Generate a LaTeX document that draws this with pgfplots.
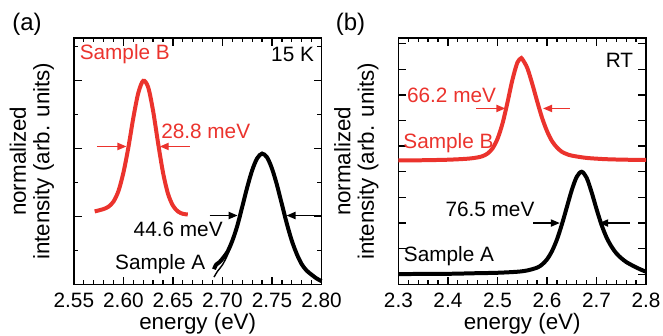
\documentclass[border=0pt]{standalone}
\usepackage{fontspec}
\setmainfont{Liberation Sans}
\usepackage{pgfplots}
\pgfplotsset{compat=1.18}
\usetikzlibrary{arrows.meta}
\definecolor{myred}{RGB}{235,51,45}
\newcommand\tf{\fontsize{10.4}{12}\selectfont}
\newcommand\lf{\fontsize{11.2}{11.75}\selectfont}
\tikzset{arr/.style={line width=0.75pt, -{Triangle[length=4.5pt,width=3.6pt]}}}
\begin{document}
\begin{tikzpicture}
\useasboundingbox (-37pt,-25.5pt) rectangle (295pt,142.5pt);
\pgfplotsset{
 panel/.style={
  scale only axis, width=124pt, height=123.5pt,
  axis line style={line width=0.85pt},
  tick style={black, line width=0.65pt},
  tick align=inside,
  major tick length=4pt, minor tick length=2.2pt,
  /pgf/number format/assume math mode=true,
  ticklabel style={font=\tf},
  xticklabel style={anchor=base, yshift=-11.5pt},
  yticklabels={},
  label style={font=\lf},
  xlabel={energy (eV)},
  xlabel style={at={(axis description cs:0.5,0)}, anchor=base, yshift=-22.5pt},
  ylabel={normalized\\intensity (arb. units)},
  ylabel style={at={(axis description cs:-0.052,0.5)}, anchor=south, align=center},
  clip=false,
 },
}
\node[font=\fontsize{12}{13}\selectfont] at (-23.5pt,130.5pt) {(a)};
\node[font=\fontsize{12}{13}\selectfont] at (138.5pt,130.5pt) {(b)};

% ---------- panel (a) ----------
\begin{axis}[panel, at={(0pt,0pt)}, anchor=south west,
 xmin=2.55, xmax=2.80, ymin=0, ymax=7.25,
 xtick={2.55,2.60,2.65,2.70,2.75,2.80},
 xticklabels={2.55,2.60,2.65,2.70,2.75,2.80},
 minor x tick num=4,
 ytick={2,4,6}, minor ytick={1,3,5,7},
]
\addplot[myred, line width=2pt, smooth] coordinates {
(2.571,2.15) (2.575,2.18) (2.580,2.22) (2.585,2.29) (2.590,2.44) (2.595,2.75)
(2.600,3.29) (2.605,4.03) (2.610,4.90) (2.615,5.63) (2.620,5.99) (2.625,5.80)
(2.630,5.10) (2.635,4.16) (2.640,3.29) (2.645,2.67) (2.650,2.32) (2.655,2.15)
(2.660,2.08) (2.665,2.06)};
\addplot[black, line width=0.7pt, smooth] coordinates {
(2.6915,0.22) (2.695,0.39) (2.700,0.58) (2.705,0.86) (2.710,1.24) (2.715,1.73)};
\addplot[black, line width=2pt, smooth] coordinates {
(2.6915,0.45) (2.6935,0.58) (2.697,0.66) (2.700,0.76) (2.705,0.96) (2.710,1.29)
(2.715,1.73) (2.720,2.29) (2.725,2.86) (2.730,3.36) (2.735,3.71) (2.740,3.85)
(2.745,3.74) (2.750,3.41) (2.755,2.93) (2.760,2.36) (2.765,1.79) (2.770,1.29)
(2.775,0.90) (2.780,0.60) (2.785,0.41) (2.790,0.29) (2.795,0.18) (2.800,0.10)};
\node[myred, font=\tf] at (axis cs:2.6014,6.76) {Sample B};
\node[font=\tf] at (axis cs:2.7708,6.76) {15 K};
\node[myred, font=\tf] at (axis cs:2.6831,4.5) {28.8 meV};
\draw[arr, myred] (axis cs:2.5732,4.06) -- (axis cs:2.6031,4.06);
\draw[arr, myred] (axis cs:2.6669,4.06) -- (axis cs:2.6367,4.06);
\node[font=\tf] at (axis cs:2.6553,1.62) {44.6 meV};
\draw[arr] (axis cs:2.6871,2.03) -- (axis cs:2.7153,2.03);
\draw[arr] (axis cs:2.800,2.03) -- (axis cs:2.7647,2.03);
\node[font=\tf] at (axis cs:2.6372,0.59) {Sample A};
\end{axis}

% ---------- panel (b) ----------
\begin{axis}[panel, at={(162.5pt,0pt)}, anchor=south west,
 xmin=2.3, xmax=2.8, ymin=-1.4, ymax=8.22,
 xtick={2.3,2.4,2.5,2.6,2.7,2.8},
 xticklabels={2.3,2.4,2.5,2.6,2.7,2.8},
 minor x tick num=4,
 ytick={-1,0,1,2,3,4,5,6,7,8},
]
\addplot[myred, line width=2pt, smooth] coordinates {
(2.30,3.44) (2.35,3.45) (2.40,3.47) (2.44,3.51) (2.46,3.56) (2.47,3.61)
(2.48,3.71) (2.49,3.91) (2.50,4.28) (2.51,4.87) (2.52,5.68) (2.53,6.57)
(2.54,7.25) (2.547,7.42) (2.55,7.40) (2.56,7.06) (2.57,6.45) (2.58,5.76)
(2.59,5.11) (2.60,4.59) (2.61,4.20) (2.62,3.95) (2.63,3.78) (2.64,3.69)
(2.65,3.63) (2.68,3.54) (2.72,3.49) (2.76,3.47) (2.80,3.46)};
\addplot[black, line width=2pt, smooth] coordinates {
(2.30,-0.99) (2.40,-0.98) (2.45,-0.96) (2.50,-0.94) (2.54,-0.90) (2.56,-0.85)
(2.58,-0.74) (2.59,-0.62) (2.60,-0.42) (2.61,-0.10) (2.62,0.35) (2.63,0.94)
(2.64,1.61) (2.65,2.28) (2.66,2.80) (2.67,3.00) (2.68,2.77) (2.69,2.21)
(2.70,1.55) (2.71,0.94) (2.72,0.45) (2.73,0.09) (2.74,-0.18) (2.75,-0.37)
(2.76,-0.52) (2.77,-0.63) (2.78,-0.73) (2.79,-0.82) (2.80,-0.90)};
\node[font=\tf] at (axis cs:2.7464,7.35) {RT};
\node[myred, font=\tf] at (axis cs:2.4073,5.99) {66.2 meV};
\draw[arr, myred] (axis cs:2.4573,5.47) -- (axis cs:2.516,5.47);
\draw[arr, myred] (axis cs:2.6462,5.47) -- (axis cs:2.5921,5.47);
\node[myred, font=\tf] at (axis cs:2.4012,4.11) {Sample B};
\node[font=\tf] at (axis cs:2.4849,1.52) {76.5 meV};
\draw[arr] (axis cs:2.5719,1.0) -- (axis cs:2.6259,1.0);
\draw[arr] (axis cs:2.7676,1.0) -- (axis cs:2.7055,1.0);
\node[font=\tf] at (axis cs:2.4022,-0.3) {Sample A};
\end{axis}
\end{tikzpicture}
\end{document}
